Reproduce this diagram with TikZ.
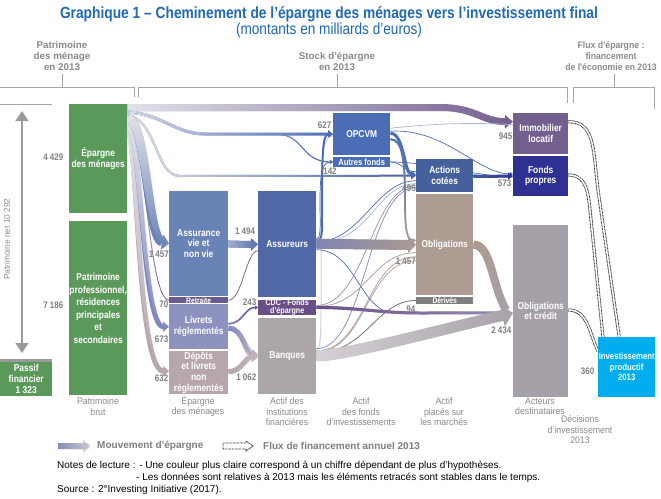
\documentclass[tikz,border=0pt]{standalone}
\usepackage{fontspec}
\setmainfont{Liberation Sans}
\newfontfamily\narrowfont{Liberation Sans}[FakeStretch=0.84]
\newfontfamily\labelfont{Liberation Sans}[FakeStretch=0.92]
\newfontfamily\titlefont{Liberation Sans}[FakeStretch=0.85]
\usetikzlibrary{arrows.meta,calc,fadings}

\definecolor{cGreen}{HTML}{5B995B}
\definecolor{cTitle}{HTML}{1F6AB3}
\definecolor{cHead}{HTML}{8A8A8A}
\definecolor{cLine}{HTML}{A6A6A6}
\definecolor{cArrow}{HTML}{9A9A9A}
\definecolor{cNum}{HTML}{7F7F7F}
\definecolor{cAssv}{HTML}{6A83B6}
\definecolor{cAssvL}{HTML}{A9B4D2}
\definecolor{cRet}{HTML}{6B5A8F}
\definecolor{cLiv}{HTML}{8E92BF}
\definecolor{cLivA}{HTML}{7E88C0}
\definecolor{cDep}{HTML}{B8A6AE}
\definecolor{cAssr}{HTML}{5069A6}
\definecolor{cAssrL}{HTML}{7E85B3}
\definecolor{cCdc}{HTML}{6A4F87}
\definecolor{cCdcL}{HTML}{9A8CB0}
\definecolor{cBanq}{HTML}{ADA6A7}
\definecolor{cBanqA}{HTML}{C2B6BC}
\definecolor{cBanqL}{HTML}{D8D3D7}
\definecolor{cOpc}{HTML}{4A6DB6}
\definecolor{cOpcL}{HTML}{A8B6DA}
\definecolor{cAct}{HTML}{45609B}
\definecolor{cObli}{HTML}{AE9B92}
\definecolor{cDeri}{HTML}{7F7F7F}
\definecolor{cImmo}{HTML}{735F8E}
\definecolor{cFonp}{HTML}{2E3192}
\definecolor{cOblc}{HTML}{A6A1A8}
\definecolor{cInve}{HTML}{00ADEF}
\definecolor{cPale}{HTML}{CDD0E2}
\definecolor{flowLight}{HTML}{E3E3EA}
\definecolor{cLegA}{HTML}{8088B8}
\definecolor{cLegB}{HTML}{D0D0D4}

\tikzfading[name=fadeR, left color=transparent!0, right color=transparent!100]
\tikzfading[name=fadeD, top color=transparent!0, bottom color=transparent!100]

\pgfdeclarelayer{paper}
\pgfdeclarelayer{flows}
\pgfsetlayers{paper,flows,main}

\newcommand{\boxfnt}[1][10.8]{\narrowfont\bfseries\fontsize{10}{#1}\selectfont}
\newcommand{\numfnt}{\narrowfont\bfseries\fontsize{9.5}{11}\selectfont}
\newcommand{\headfnt}{\bfseries\fontsize{9.8}{11}\selectfont}
\newcommand{\botfnt}{\labelfont\fontsize{9.5}{10.5}\selectfont}
\newcommand{\legfnt}{\bfseries\fontsize{10}{11}\selectfont}

% band with a colour running from #2 to #3, left to right / top to bottom
\newcommand{\flowR}[6]{%
  \coordinate (fs) at #5;
  \draw[line width=#1, #3, #4] (fs) #6;
  \draw[line width=#1, #2, path fading=fadeR] (fs) #6 ($(fs)+(0,-15)$) ($(fs)+(0,15)$);}
\newcommand{\flowD}[6]{%
  \coordinate (fs) at #5;
  \draw[line width=#1, #3, #4] (fs) #6;
  \draw[line width=#1, #2, path fading=fadeD] (fs) #6 ($(fs)+(-15,0)$) ($(fs)+(15,0)$);}
\newcommand{\flux}[1]{\draw[fluxedge] #1; \draw[fluxcore] #1;}

\begin{document}
\begin{tikzpicture}[x=1pt,y=-1pt,
  box/.style={fill=#1, text=white, inner sep=0pt, anchor=north west, align=center, font=\boxfnt},
  num/.style={text=cNum, font=\numfnt, inner sep=0.5pt, anchor=east},
  head/.style={text=cHead, font=\headfnt, align=center, inner sep=0pt},
  bot/.style={text=cHead, font=\botfnt, align=center, inner sep=0pt},
  bracket/.style={draw=cLine, line width=0.7pt},
  thread/.style={line width=0.7pt},
  legtext/.style={text=cNum, font=\legfnt, inner sep=0pt, anchor=west},
  note/.style={font=\fontsize{10}{11}\selectfont, inner sep=0pt, anchor=west},
  fluxedge/.style={line width=3.2pt, dash pattern=on 0.8pt off 0.6pt, black!85},
  fluxcore/.style={line width=1.4pt, white}]
\begin{pgfonlayer}{paper}
\fill[white] (0,0) rectangle (661,498);
\end{pgfonlayer}
\useasboundingbox (0,0) rectangle (661,498);

% title
\node[text=cTitle, font=\titlefont\bfseries\fontsize{16.2}{18}\selectfont] (title) at (329,14)
  {Graphique 1 – Cheminement de l’épargne des ménages vers l’investissement final};
\node[text=cTitle, font=\titlefont\fontsize{16}{18}\selectfont] (subtitle) at (329,30)
  {(montants en milliards d’euros)};

% headers
\node[head] (hpat) at (62,56) {Patrimoine\\des ménage\\en 2013};
\node[head] (hstock) at (337,61.5) {Stock d’épargne\\en 2013};
\node[head, font=\labelfont\bfseries\fontsize{9.4}{11}\selectfont] (hflux) at (611,56) {Flux d’épargne :\\financement\\de l'économie en 2013};
\draw[bracket] (0,87) -- (134,87) -- (134,97);
\draw[bracket] (138,97) -- (138,87) -- (567,87) -- (567,103);
\draw[bracket] (573,103) -- (573,87) -- (654,87) -- (654,109);
\draw[bracket] (62,87) -- (62,74);
\draw[bracket] (337,87) -- (337,74);
\draw[bracket] (614,87) -- (614,74);

% net wealth
\draw[line width=0.7pt, cLine] (0,104) -- (52,104);
\coordinate (nettop) at (22,111);
\coordinate (netbot) at (22,353);
\draw[line width=1.6pt, cArrow, {Triangle[length=10pt,width=13pt]}-{Triangle[length=10pt,width=13pt]}] (nettop) -- (netbot);
\node[text=cHead, font=\fontsize{8.3}{9}\selectfont, rotate=90] (netlab) at (7,239) {Patrimoine net 10~292};
\node[fill=cArrow, minimum width=52pt, minimum height=3pt, inner sep=0pt, anchor=north west] (passbar) at (0,358.5) {};
\node[box=cGreen, minimum width=52pt, minimum height=34pt, font={\boxfnt[11]}] (pass) at (0,361.5) {Passif\\financier\\1~323};

% boxes
\node[box=cGreen, minimum width=58pt, minimum height=109pt] (ep) at (69,104) {Épargne\\des ménages};
\node[box=cGreen, minimum width=58pt, minimum height=174pt, font={\boxfnt[12.5]}] (pat) at (69,221) {Patrimoine\\professionnel,\\résidences\\principales\\et\\secondaires};

\node[box=cAssv, minimum width=59pt, minimum height=105.5pt] (assv) at (169,190.5) {Assurance\\vie et\\non vie};
\node[box=cRet, minimum width=59pt, minimum height=6pt, font=\narrowfont\bfseries\fontsize{8}{8}\selectfont] (retr) at (169,297) {Retraite};
\node[box=cLiv, minimum width=59pt, minimum height=45pt, font={\boxfnt[11]}] (livr) at (169,304) {Livrets\\réglementés};
\node[box=cDep, minimum width=59pt, minimum height=43pt] (depo) at (169,351) {Dépôts\\et livrets\\non\\réglementés};

\node[box=cAssr, minimum width=58pt, minimum height=106pt] (assr) at (258,190.5) {Assureurs};
\node[box=cCdc, minimum width=58pt, minimum height=15pt, font=\narrowfont\bfseries\fontsize{8.5}{7.5}\selectfont] (cdc) at (258,299.5) {CDC - Fonds\\d’épargne};
\node[box=cBanq, minimum width=58pt, minimum height=76pt] (banq) at (258,317.5) {Banques};

\node[box=cOpc, minimum width=57pt, minimum height=42pt] (opcvm) at (333,113) {OPCVM};
\node[box=cOpc, minimum width=57pt, minimum height=9.5pt, font=\narrowfont\bfseries\fontsize{9}{9}\selectfont] (autr) at (333,157) {Autres fonds};

\node[box=cAct, minimum width=57pt, minimum height=33pt] (acti) at (416,159) {Actions\\cotées};
\node[box=cObli, minimum width=57pt, minimum height=101pt] (obli) at (416,194) {Obligations};
\node[box=cDeri, minimum width=57pt, minimum height=6.5pt, font=\narrowfont\bfseries\fontsize{8}{8}\selectfont] (deri) at (416,297) {Dérivés};

\node[box=cImmo, minimum width=55pt, minimum height=41pt] (immo) at (513,113) {Immobilier\\locatif};
\node[box=cFonp, minimum width=55pt, minimum height=40.5pt] (fonp) at (513,155.5) {Fonds\\propres};
\node[box=cOblc, minimum width=55pt, minimum height=171.5pt] (oblc) at (513,225) {Obligations\\et crédit};

\node[box=cInve, minimum width=57pt, minimum height=59.5pt, font=\narrowfont\bfseries\fontsize{9.2}{10.5}\selectfont] (inve) at (598,337) {Investissement\\productif\\2013};

\begin{pgfonlayer}{flows}
% flows out of the households' savings
\flowR{7pt}{flowLight}{cImmo}{-{Triangle[length=8pt,width=13pt]}}{($(ep.north east)+(0,3.5)$)}{-- (440,107.5) .. controls (475,107.5) and (482,121.5) .. ($(immo.west)+(0,-12)$)}
\flowR{3pt}{flowLight}{cOpc}{-{Triangle[length=5pt,width=8pt]}}{($(ep.north east)+(0,8)$)}{.. controls +(35,2) and +(-30,0) .. (205,134) -- (opcvm.west)}
\flowR{1.2pt}{flowLight}{cOpc}{-{Triangle[length=3pt,width=4pt]}}{($(ep.north east)+(0,8)$)}{.. controls +(35,2) and +(-30,0) .. (205,134) -- (275,134) .. controls (305,134) and (300,161.75) .. (autr.west)}
\flowR{2pt}{flowLight}{cAct}{-{Triangle[length=5pt,width=7pt]}}{($(ep.north east)+(0,11)$)}{.. controls +(30,5) and +(-25,0) .. (180,176) -- (acti.west)}
\flowD{5pt}{flowLight}{cDep}{-{Triangle[length=6pt,width=10pt]}}{($(ep.north east)+(0,26)$)}{.. controls +(10,2) and +(-32,0) .. ($(depo.west)+(0,-1.5)$)}
\flowD{5pt}{flowLight}{cLivA}{-{Triangle[length=6pt,width=10pt]}}{($(ep.north east)+(0,22)$)}{.. controls +(14,3) and +(-27,0) .. (livr.west)}
\flowD{0.8pt}{flowLight}{cRet}{-}{($(ep.north east)+(0,18)$)}{.. controls +(18,3) and +(-21,0) .. (retr.west)}
\flowD{9pt}{flowLight}{cAssv}{-{Triangle[length=7pt,width=15pt]}}{($(ep.north east)+(0,14)$)}{.. controls +(20,4) and +(-22,-4) .. (assv.west)}

% household savings to institutions
\flowR{7pt}{cAssvL}{cAssr}{-{Triangle[length=7pt,width=12pt]}}{($(assv.east)+(0,0.5)$)}{.. controls +(10,0.3) and +(-10,0.3) .. ($(assr.west)+(0,0.5)$)}
\draw[thread, cRet] (retr.east) .. controls +(14,0) and +(-12,0) .. ($(assr.west)+(0,7)$);
\flowR{1.5pt}{cLivA}{cCdc}{-{Triangle[length=3pt,width=4pt]}}{($(livr.east)+(0,-3)$)}{.. controls +(15,0) and +(-14,0) .. (cdc.west)}
\flowR{5pt}{cLivA}{cBanqA}{-{Triangle[length=6pt,width=11pt]}}{($(livr.east)+(0,1.5)$)}{.. controls +(16,0) and +(-14,0) .. ($(banq.west)+(0,-1)$)}
\flowR{5pt}{cDep}{cBanqA}{-{Triangle[length=6pt,width=11pt]}}{($(depo.east)+(0,-1)$)}{.. controls +(14,0) and +(-14,0) .. ($(banq.west)+(0,1)$)}

% institutions to funds and markets
\draw[line width=1pt, cPale] ($(banq.east)+(0,-6)$) .. controls +(5,0) and +(0,40) .. (321,290) -- (321,200) .. controls (321,150) and (324,136) .. ($(opcvm.west)+(0,2)$);
\draw[line width=2pt, cOpc, -{Triangle[length=4pt,width=6pt]}] ($(assr.east)+(0,-3)$) .. controls +(7,0) and +(0,30) .. (322,200) .. controls (322,140) and (324,134) .. (opcvm.west);
\draw[thread, cOpc, -{Triangle[length=3pt,width=4pt]}] ($(assr.east)+(0,-5)$) .. controls +(5,0) and +(0,25) .. (320,200) .. controls (320,168) and (324,162) .. (autr.west);
\draw[thread, cOpc] ($(assr.east)+(0,-2)$) .. controls +(45,0) and +(-40,0) .. ($(acti.west)+(0,5)$);
\draw[thread, cOpcL] ($(assr.east)+(0,-1)$) .. controls +(55,0) and +(-40,0) .. ($(acti.west)+(0,8)$);
\draw[thread, cOpc] ($(assr.east)+(0,6)$) .. controls +(40,0) and +(-35,0) .. (395,313) -- ($(oblc.west)+(-8,2)$);
\draw[thread, cCdcL] ($(cdc.east)+(0,-2)$) .. controls +(50,0) and +(-45,0) .. ($(acti.west)+(0,10)$);
\draw[thread, cObli] ($(cdc.east)+(0,-1)$) .. controls +(50,0) and +(-45,0) .. ($(obli.west)+(0,8)$);
\draw[thread, cLivA] ($(banq.east)+(0,-7)$) .. controls +(50,0) and +(-50,0) .. ($(acti.west)+(0,12)$);
\draw[thread, cObli] ($(banq.east)+(0,-5)$) .. controls +(50,0) and +(-50,0) .. ($(obli.west)+(0,12)$);
\draw[thread, cObli] ($(banq.east)+(0,-4)$) .. controls +(50,0) and +(-50,0) .. ($(obli.west)+(0,16)$);
\draw[line width=0.9pt, cDeri] ($(banq.east)+(0,-3)$) .. controls +(50,0) and +(-40,0) .. (deri.west);
\flowR{10pt}{cAssrL}{cObli}{-{Triangle[length=8pt,width=16pt]}}{(assr.east)}{.. controls +(30,0.3) and +(-30,0.3) .. (obli.west)}
\flowR{3pt}{cCdc}{cCdcL}{-}{(cdc.east)}{.. controls +(40,0) and +(-40,0) .. (420,313) -- ($(oblc.west)+(-8,2)$)}

% funds to markets and final actors
\draw[line width=3pt, cOpc, -{Triangle[length=5pt,width=7pt]}] ($(opcvm.east)+(0,-1)$) .. controls +(14,0) and +(-12,0) .. ($(acti.west)+(0,-1.5)$);
\flowD{1.8pt}{cOpc}{cObli}{-{Triangle[length=3pt,width=4pt]}}{($(opcvm.east)+(0,5)$)}{.. controls +(12,0) and +(0,-40) .. (405,200) .. controls (405,232) and (407,240) .. ($(obli.west)+(0,-4)$)}
\draw[thread, cOpc, -{Triangle[length=3pt,width=4pt]}] ($(opcvm.east)+(0,-3)$) .. controls (445,128) and (478,174) .. ($(fonp.west)+(0,-2)$);
\draw[thread, cOpcL] ($(opcvm.east)+(0,-6)$) .. controls (430,124) and (470,122) .. ($(immo.west)+(0,-9)$);
\draw[thread, cOpc] (autr.east) .. controls (430,162) and (480,177) .. ($(fonp.west)+(0,1)$);
\draw[thread, cOpc] (autr.east) .. controls (402,162) and (404,172) .. ($(acti.west)+(0,-4)$);
\flowR{3pt}{cAct}{cFonp}{-{Triangle[length=5pt,width=7pt]}}{($(acti.east)+(0,0.5)$)}{.. controls +(15,0.3) and +(-15,0.3) .. (fonp.west)}
\flowD{8pt}{cObli}{cOblc}{-}{(obli.east)}{.. controls +(18,0) and +(-14,-24) .. ($(oblc.west)+(-7,-1)$)}
\flowR{11pt}{cBanqL}{cOblc}{-{Triangle[length=11pt,width=22pt]}}{(banq.east)}{.. controls +(25,1) and +(-70,16) .. ($(oblc.west)+(0,2)$)}

% yearly financing
\flux{($(immo.east)+(0,-12)$) .. controls +(27,0) and +(-5,-40) .. (598,190) -- ($(inve.north)+(-7.5,0)$)}
\flux{($(fonp.east)+(0,-1)$) .. controls +(17,0) and +(-2,-20) .. (590,210) -- ($(inve.north west)+(5,0)$)}
\flux{($(oblc.east)+(0,-1)$) .. controls +(20,0) and +(-8,-15) .. ($(inve.west)+(0,-16)$)}
\end{pgfonlayer}

% amounts
\node[num] (v4429) at (64,157) {4~429};
\node[num] (v7186) at (64,305) {7~186};
\node[num] (v1457a) at (169.5,254) {1~457};
\node[num] (v70) at (169,304) {70};
\node[num] (v673) at (169,339) {673};
\node[num] (v632) at (169,378) {632};
\node[num, anchor=center] (v1494) at (245,231) {1~494};
\node[num] (v243) at (257,302) {243};
\node[num] (v1062) at (257,377) {1~062};
\node[num] (v627) at (332,125) {627};
\node[num, anchor=center] (v142) at (330,171) {142};
\node[num] (v495) at (416.5,188) {495};
\node[num] (v1457b) at (416.5,261) {1~457};
\node[num] (v94) at (416,309) {94};
\node[num] (v945) at (513,136) {945};
\node[num] (v573) at (512,183) {573};
\node[num] (v2434) at (512,330) {2~434};
\node[num] (v360) at (595,371) {360};

% column labels
\node[bot] (bpat) at (98,406.5) {Patrimoine\\brut};
\node[bot] (bepa) at (198,406.5) {Épargne\\des ménages};
\node[bot] (binst) at (287,412) {Actif des\\institutions\\financières};
\node[bot] (bfond) at (361,412) {Actif\\des fonds\\d’investissements};
\node[bot] (bmarc) at (444,412) {Actif\\placés sur\\les marchés};
\node[bot] (bdest) at (540,406.5) {Acteurs\\destinataires};
\node[bot] (bdec) at (580,430) {Décisions\\d’investissement\\2013};

% legend
\coordinate (lg1) at (58,446);
\coordinate (lg2) at (90,446);
\flowR{6pt}{cLegA}{cLegB}{-{Triangle[length=7pt,width=12pt]}}{(lg1)}{.. controls +(8,0.3) and +(-8,0.3) .. (lg2)}
\node[legtext] (lgt1) at (97,446) {Mouvement d’épargne};
\draw[dash pattern=on 0.8pt off 0.6pt, black!85, line width=0.8pt] (223,443) -- (246,443) -- (246,441) -- (253,446) -- (246,451) -- (246,449) -- (223,449) -- cycle;
\node[legtext] (lgt2) at (263,446) {Flux de financement annuel 2013};

% notes
\node[note] (note1) at (57,466) {Notes de lecture : - Une couleur plus claire correspond à un chiffre dépendant de plus d’hypothèses.};
\node[note] (note2) at (136,478) {- Les données sont relatives à 2013 mais les éléments retracés sont stables dans le temps.};
\node[note] (note3) at (57,490) {Source : 2°Investing Initiative (2017).};
\end{tikzpicture}
\end{document}
